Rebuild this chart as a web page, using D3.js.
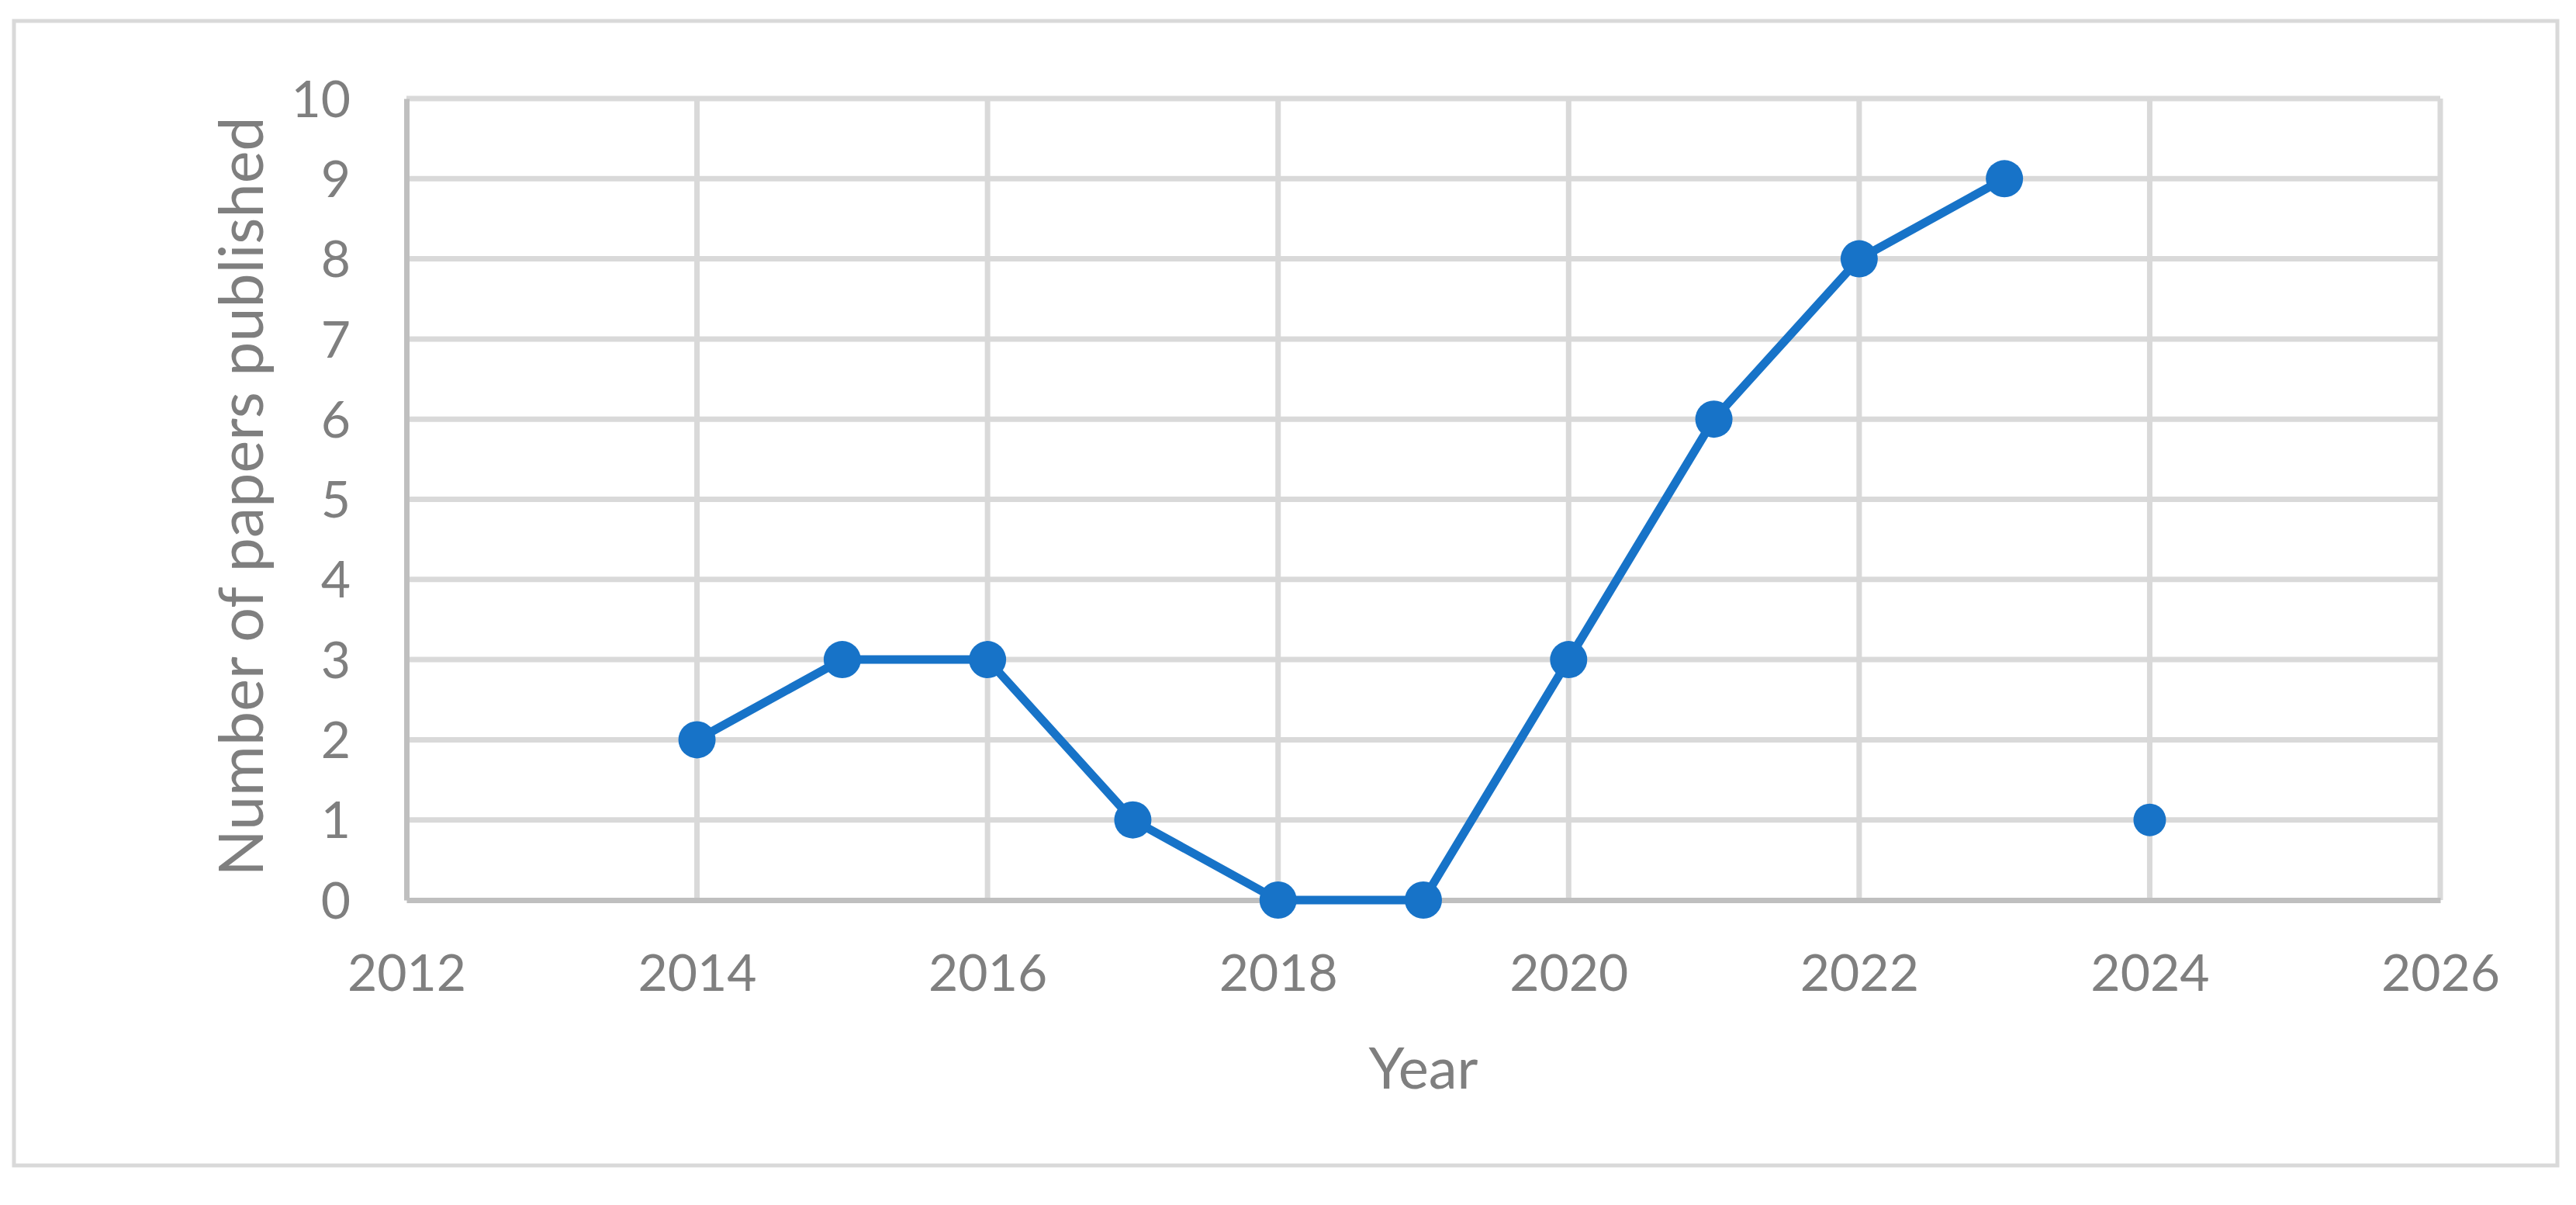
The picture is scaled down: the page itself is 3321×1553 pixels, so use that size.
<!DOCTYPE html>
<html><head><meta charset="utf-8">
<script src="https://cdn.jsdelivr.net/npm/d3@7"></script>
<style>html,body{margin:0;padding:0;background:#fff;}svg{display:block;}</style>
</head><body>
<svg id="c" width="3321" height="1553"></svg>
<script>
const years = [2014, 2015, 2016, 2017, 2018, 2019, 2020, 2021, 2022, 2023];
const papers = [2, 3, 3, 1, 0, 0, 3, 6, 8, 9];
const separateYears = [2024];
const separatePapers = [1];
const xTicks = [2012, 2014, 2016, 2018, 2020, 2022, 2024, 2026];
const yTicks = [0, 1, 2, 3, 4, 5, 6, 7, 8, 9, 10];
const xTitle = "Year";
const yTitle = "Number of papers published";

const svg = d3.select("#c");
const W = 3321, H = 1553;
const m = {left: 524, right: W - 3146, top: 127, bottom: H - 1160};
const x = d3.scaleLinear().domain([2012, 2026]).range([m.left, W - m.right]);
const y = d3.scaleLinear().domain([0, 10]).range([H - m.bottom, m.top]);
const font = "Lato, 'Open Sans', sans-serif";
const grey = "#7f7f7f";
const blue = "#1773c8";

svg.append("rect").attr("x", 18).attr("y", 27).attr("width", 3279).attr("height", 1475)
  .attr("fill", "#fff").attr("stroke", "#d9d9d9").attr("stroke-width", 5);

// gridlines
svg.append("g").selectAll("line").data(yTicks.filter(d => d > 0)).join("line")
  .attr("x1", x(2012)).attr("x2", x(2026)).attr("y1", d => y(d)).attr("y2", d => y(d))
  .attr("stroke", "#d9d9d9").attr("stroke-width", 7);
svg.append("g").selectAll("line").data(xTicks.filter(d => d > 2012)).join("line")
  .attr("x1", d => x(d)).attr("x2", d => x(d)).attr("y1", y(0)).attr("y2", y(10))
  .attr("stroke", "#d9d9d9").attr("stroke-width", 7);

// axes
const xAxis = svg.append("g").attr("transform", `translate(0,${y(0)})`)
  .call(d3.axisBottom(x).tickValues(xTicks).tickFormat(d3.format("d")).tickSize(0).tickPadding(70));
const yAxis = svg.append("g").attr("transform", `translate(${x(2012)},0)`)
  .call(d3.axisLeft(y).tickValues(yTicks).tickSize(0).tickPadding(72));
[xAxis, yAxis].forEach(a => {
  a.select(".domain").attr("stroke", "#bfbfbf").attr("stroke-width", 7);
  a.selectAll("text").attr("fill", grey).attr("font-family", font).attr("font-size", 66);
});
yAxis.selectAll("text").attr("dy", "0.35em");

// line
const line = d3.line().x((d, i) => x(years[i])).y(d => y(d));
svg.append("path").datum(papers).attr("d", line).attr("fill", "none")
  .attr("stroke", blue).attr("stroke-width", 11).attr("stroke-linejoin", "round");
svg.append("g").selectAll("circle").data(papers).join("circle")
  .attr("cx", (d, i) => x(years[i])).attr("cy", d => y(d)).attr("r", 24).attr("fill", blue);
svg.append("g").selectAll("circle").data(separatePapers).join("circle")
  .attr("cx", (d, i) => x(separateYears[i])).attr("cy", d => y(d)).attr("r", 21).attr("fill", blue);

// titles
svg.append("text").attr("x", (x(2012) + x(2026)) / 2).attr("y", 1403)
  .attr("text-anchor", "middle").attr("fill", grey).attr("font-family", font).attr("font-size", 74).text(xTitle);
svg.append("text").attr("transform", `translate(311,640) rotate(-90)`).attr("dy", "0.35em")
  .attr("text-anchor", "middle").attr("fill", grey).attr("font-family", font).attr("font-size", 79).text(yTitle);
</script>
</body></html>
